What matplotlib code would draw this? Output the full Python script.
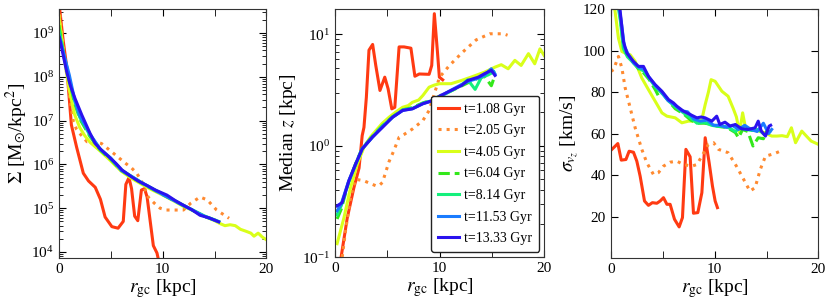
import matplotlib
matplotlib.use("Agg")
import matplotlib.pyplot as plt
from matplotlib.ticker import MultipleLocator, LogLocator, NullFormatter

plt.rcParams['font.family'] = ['Liberation Serif', 'DejaVu Serif']
plt.rcParams['mathtext.fontset'] = 'stix'

labels = ['t=1.08 Gyr', 't=2.05 Gyr', 't=4.05 Gyr', 't=6.04 Gyr',
          't=8.14 Gyr', 't=11.53 Gyr', 't=13.33 Gyr']
colors = ['#ff3a12', '#ff8a30', '#d9ff1a', '#33e81a', '#14f07c', '#1a7cff', '#2a12ee']
styles = ['-', ':', '-', '--', '-', '-', '-']

# ---- surface density Sigma(r) ----
sig_r = [
    [0, 0.4, 0.75, 1.2, 1.7, 2.35, 2.85, 3.5, 4.0, 4.45, 5.1, 5.7, 6.2, 6.45, 6.75, 7.0,
     7.3, 7.6, 7.95, 8.25, 8.5, 8.8, 9.1, 9.45, 9.8],
    [0, 0.5, 1.0, 1.4, 1.7, 2.0, 2.4, 2.7, 3.2, 3.7, 4.1, 4.7, 5.25, 5.8, 6.4, 7.0, 7.5,
     8.0, 8.6, 9.2, 9.75, 10.3, 11.0, 12.0, 12.7, 13.6, 14.3, 15.2, 16.4],
    [0, 0.5, 1.0, 1.5, 2.0, 2.5, 3.0, 4.0, 5.0, 6.0, 7.0, 8.0, 9.0, 10.0, 11.0, 12.0, 13.0,
     14.0, 15.0, 15.5, 16.0, 16.5, 17.0, 17.5, 18.0, 18.5, 18.8, 19.2, 19.6, 20.0],
    [0, 0.5, 1.0, 1.5, 2.0, 3.0, 4.0, 5.0, 6.0, 8.0, 10.0, 12.0, 14.0, 15.4],
    [0, 0.5, 1.0, 1.5, 2.0, 3.0, 4.0, 5.0, 6.0, 8.0, 10.0, 12.0, 14.0, 15.4],
    [0, 0.5, 1.0, 1.5, 2.0, 3.0, 4.0, 5.0, 6.0, 8.0, 10.0, 12.0, 14.0, 15.4],
    [0.05, 0.4, 0.75, 1.1, 1.55, 2.2, 3.0, 3.5, 4.0, 4.8, 5.5, 6.1, 7.0, 7.7, 8.5, 9.3,
     10.4, 11.2, 12.0, 12.8, 13.6, 14.5, 15.4],
]
sig_v = [
    [5e9, 7e8, 1.7e8, 8e6, 2.5e6, 6.3e5, 4.2e5, 3.0e5, 1.6e5, 6.3e4, 3.8e4, 3.5e4, 5e4,
     3.5e5, 5e5, 2.8e5, 6.6e4, 5.2e4, 2.6e5, 2.8e5, 1.8e5, 5e4, 1.4e4, 9.5e3, 4e3],
    [4e9, 3.2e8, 4e7, 9.3e6, 6.3e6, 5.1e6, 4e6, 3.3e6, 3.4e6, 3.2e6, 3.0e6, 2.3e6, 1.8e6,
     1.4e6, 1.07e6, 8.3e5, 6.3e5, 4e5, 1.8e5, 1.3e5, 1e5, 9.1e4, 9.1e4, 9.1e4, 1.3e5,
     1.8e5, 1.55e5, 9.1e4, 5.9e4],
    [2.5e9, 2.8e8, 5e7, 1.4e7, 7e6, 4.5e6, 3.2e6, 2e6, 1.2e6, 7e5, 4.8e5, 3.5e5, 2.6e5,
     2e5, 1.5e5, 1.1e5, 8.7e4, 6.6e4, 5.2e4, 4.5e4, 4e4, 4.2e4, 4e4, 3.3e4, 3e4, 2.7e4,
     2.3e4, 2.7e4, 2.2e4, 1.9e4],
    [1.5e9, 2.8e8, 8e7, 2.6e7, 1.1e7, 4.3e6, 2.1e6, 1.3e6, 7.3e5, 3.7e5, 2.05e5, 1.15e5,
     6.5e4, 5e4],
    [1.2e9, 3e8, 9e7, 2.9e7, 1.2e7, 4.6e6, 2.2e6, 1.35e6, 7.5e5, 3.8e5, 2.1e5, 1.17e5,
     6.7e4, 5e4],
    [9e8, 3.1e8, 1.1e8, 3.1e7, 1.3e7, 4.9e6, 2.2e6, 1.4e6, 7.4e5, 3.8e5, 2.05e5, 1.15e5,
     6.6e4, 4.9e4],
    [7.9e8, 3.2e8, 1.3e8, 6.3e7, 3.2e7, 1.35e7, 5.1e6, 3.0e6, 2.24e6, 1.5e6, 1.05e6,
     7.4e5, 5.2e5, 4.1e5, 3.3e5, 2.6e5, 2.0e5, 1.5e5, 1.17e5, 9.3e4, 6.9e4, 6.0e4, 4.9e4],
]

# ---- median height z(r) ----
z_r = [
    [0.5, 1.17, 1.8, 2.3, 2.6, 2.77, 3.0, 3.25, 3.6, 3.9, 4.3, 4.76, 5.08, 5.43, 5.72,
     6.13, 6.6, 7.26, 7.64, 8.06, 9.0, 9.25, 9.5, 9.8, 9.98, 10.3],
    [0.69, 1.0, 1.49, 1.97, 2.77, 3.4, 3.9, 4.2, 4.54, 5.17, 5.6, 6.13, 6.6, 7.4, 8.4,
     9.0, 9.5, 10.0, 10.95, 12.2, 13.5, 14.8, 16.1, 16.5],
    [0.2, 0.85, 1.49, 2.13, 2.77, 3.4, 3.9, 4.5, 5.17, 5.8, 6.46, 7.0, 7.4, 8.0, 8.4, 9.0,
     9.5, 10.0, 11.1, 12.1, 13.0, 14.3, 15.3, 15.9, 16.56, 17.2, 17.8, 18.5, 19.1, 19.6, 20.0],
    [0.2, 0.6, 1.3, 2.0, 2.6, 3.6, 4.5, 5.5, 6.5, 7.4, 8.4, 9.4, 10.2, 11.1, 12.0, 12.8,
     13.6, 14.3, 14.95, 15.3],
    [0.2, 0.6, 1.3, 2.0, 2.6, 3.6, 4.5, 5.5, 6.5, 7.4, 8.4, 9.4, 10.2, 11.1, 12.0, 12.7,
     13.4, 14.0, 14.6, 15.2],
    [0.2, 0.6, 1.3, 2.0, 2.6, 3.6, 4.5, 5.5, 6.5, 7.4, 8.4, 9.4, 10.2, 11.1, 12.0, 12.8,
     13.6, 14.3, 14.95, 15.3],
    [0.2, 0.69, 1.33, 1.97, 2.6, 3.57, 4.54, 5.5, 6.46, 7.4, 8.4, 9.35, 10.1, 11.1, 12.1,
     12.7, 13.7, 14.3, 14.95, 15.3],
]
z_v = [
    [0.089, 0.224, 0.417, 0.63, 1.23, 1.46, 2.72, 7.2, 8.1, 5.25, 3.13, 4.12, 3.24, 2.14,
     2.21, 7.7, 7.7, 7.5, 4.2, 4.4, 4.37, 5.25, 15.3, 6.9, 4.12, 3.9],
    [0.1, 0.17, 0.342, 0.5, 0.484, 0.457, 0.437, 0.437, 0.468, 0.72, 0.89, 1.19, 1.26,
     1.41, 1.68, 2.07, 2.92, 4.12, 5.25, 6.9, 8.9, 10.1, 10.1, 9.8],
    [0.132, 0.224, 0.42, 0.68, 0.97, 1.2, 1.36, 1.58, 1.8, 2.0, 2.21, 2.29, 2.45, 2.57,
     2.82, 3.35, 3.5, 3.6, 3.6, 3.85, 4.12, 4.57, 5.07, 5.33, 4.9, 5.83, 5.25, 6.7, 5.43,
     7.4, 6.45],
    [0.22, 0.27, 0.47, 0.7, 0.95, 1.22, 1.5, 1.82, 2.1, 2.2, 2.42, 2.6, 2.85, 3.1, 3.4,
     3.7, 4.0, 4.2, 3.45, 4.3],
    [0.24, 0.29, 0.47, 0.69, 0.94, 1.2, 1.48, 1.8, 2.1, 2.16, 2.4, 2.56, 2.8, 3.1, 3.45,
     3.9, 3.2, 4.1, 4.3, 4.6],
    [0.26, 0.3, 0.48, 0.69, 0.94, 1.2, 1.47, 1.8, 2.08, 2.15, 2.38, 2.55, 2.82, 3.15, 3.5,
     3.8, 4.0, 4.3, 4.9, 4.4],
    [0.288, 0.309, 0.484, 0.684, 0.933, 1.19, 1.46, 1.8, 2.07, 2.14, 2.38, 2.54, 2.82,
     3.13, 3.47, 3.85, 4.12, 4.43, 4.74, 4.27],
]

# ---- vertical velocity dispersion ----
s_r = [
    [0.1, 0.67, 1.0, 1.45, 1.76, 2.18, 2.5, 2.82, 3.24, 3.62, 4.0, 4.43, 4.75, 5.07, 5.4,
     5.71, 6.13, 6.58, 6.9, 7.23, 7.64, 7.96, 8.38, 8.77, 9.09, 9.47, 9.79, 10.05, 10.27],
    [0, 0.25, 0.73, 1.06, 1.38, 1.86, 2.34, 2.98, 3.46, 4.1, 4.59, 5.07, 5.71, 6.36, 7.0,
     7.81, 8.29, 8.77, 9.4, 9.9, 10.37, 11.3, 12.1, 12.8, 13.4, 13.9, 14.4, 14.9, 15.8, 16.3],
    [0.2, 0.41, 0.73, 1.06, 1.5, 1.86, 2.34, 2.98, 3.62, 4.27, 4.92, 5.4, 6.2, 6.84, 7.48,
     8.1, 8.77, 9.09, 9.4, 9.66, 10.05, 10.7, 11.3, 11.8, 12.1, 12.4, 12.7, 13.0, 13.5,
     14.0, 14.5, 15.0, 15.5, 16.0, 16.5, 17.0, 17.4, 17.8, 18.4, 18.9, 19.3, 19.7, 20.0],
    [0.6, 0.9, 1.2, 1.6, 2.2, 2.7, 3.2, 3.7, 4.3, 4.6, 5.0, 5.6, 6.2, 7.0, 7.7, 8.3, 9.0,
     9.7, 10.3, 11.0, 11.5, 12.0, 12.3, 12.7, 13.2, 13.7, 14.2, 14.7, 15.1],
    [0.6, 0.9, 1.2, 1.6, 2.2, 2.7, 3.2, 3.7, 4.3, 5.0, 5.6, 6.2, 7.0, 7.7, 8.3, 9.0, 9.7,
     10.3, 11.0, 11.5, 12.0, 12.5, 13.0, 13.6, 14.2, 14.8, 15.3],
    [0.7, 1.0, 1.3, 1.7, 2.2, 2.7, 3.2, 3.7, 4.3, 4.9, 5.5, 6.1, 6.8, 7.4, 8.0, 8.6, 9.3,
     9.9, 10.5, 11.1, 11.7, 12.3, 12.9, 13.5, 14.1, 14.7, 15.2, 15.5],
    [0.8, 0.9, 1.21, 1.54, 2.18, 2.66, 3.14, 3.62, 4.27, 4.92, 5.56, 6.03, 6.36, 7.0, 7.64,
     8.29, 8.7, 9.08, 9.73, 10.2, 10.5, 11.0, 11.5, 12.0, 12.6, 13.25, 13.9, 14.2, 14.5,
     14.9, 15.25, 15.4],
]
s_v = [
    [52.4, 55.2, 47.2, 47.5, 51.5, 51.0, 46.7, 39.5, 27.5, 25.4, 26.7, 26.4, 27.5, 29.1,
     25.9, 25.9, 18.7, 15.0, 19.5, 52.4, 48.8, 21.6, 21.9, 31.5, 58.0, 46.0, 34.7, 27.5, 24.3],
    [90, 90.8, 97.2, 91.6, 82, 72.4, 62.8, 52.4, 46, 40.3, 41.2, 44.3, 46.2, 46.7, 45.1,
     44.3, 45.1, 49.1, 54.8, 55.6, 52.4, 50.8, 44.3, 37.9, 32.3, 33.9, 42.7, 49.1, 50.4, 51.5],
    [125, 118.8, 106, 99.6, 98.5, 98, 94.8, 86.8, 81.2, 75.6, 70, 68.4, 67.6, 65.2, 66.0,
     66.0, 66.8, 74, 80, 86, 85.2, 80.4, 78, 72, 68, 60.5, 70, 62, 62.5, 61.5, 61, 60,
     58.8, 58.8, 59, 58.5, 62.8, 55.6, 61.2, 58.5, 56.4, 55.5, 54.8],
    [125, 116, 102, 97.5, 94, 91, 89, 86, 81, 78, 79.5, 75.5, 72, 69.5, 66.5, 65, 65,
     64.5, 63.5, 63, 62, 60.5, 58, 62, 61, 54, 58, 57.5, 62],
    [124, 115, 101, 97, 94, 91.5, 90, 86.5, 82.5, 79, 75.5, 73, 70, 67.5, 65, 65.5, 64,
     63.5, 63.5, 62.5, 61, 63, 62, 61.5, 62, 59.5, 61],
    [124, 114, 102, 98, 94, 92, 91, 87, 83, 80, 76, 74, 71, 70.5, 67, 66, 66.5, 64, 64,
     63, 64, 62, 64, 62, 61, 65, 60, 62],
    [125, 118.8, 104.4, 98.8, 94.8, 92.4, 92.4, 87.6, 83.6, 80.4, 76.4, 74.8, 73.2, 70.8,
     69.2, 67.6, 68, 67.6, 66, 68.4, 64.4, 65.5, 63.6, 64.4, 62.3, 62, 62.8, 66, 61.2,
     58.8, 63.6, 64],
]

fig = plt.figure(figsize=(8.3, 3.05), dpi=100)
ax1 = fig.add_axes([0.071, 0.154, 0.250, 0.816])
ax2 = fig.add_axes([0.4036, 0.157, 0.252, 0.813])
ax3 = fig.add_axes([0.736, 0.154, 0.250, 0.816])

for i in range(7):
    ax1.plot(sig_r[i], sig_v[i], color=colors[i], ls=styles[i], lw=2.2)
    ax2.plot(z_r[i], z_v[i], color=colors[i], ls=styles[i], lw=2.2, label=labels[i])
    ax3.plot(s_r[i], s_v[i], color=colors[i], ls=styles[i], lw=2.2)

ax1.set_yscale('log')
ax1.set_ylim(7.3e3, 3.5e9)
ax2.set_yscale('log')
ax2.set_ylim(0.1, 16.8)
ax3.set_ylim(0, 120)
ax3.set_yticks([20, 40, 60, 80, 100, 120])

for ax in (ax1, ax2, ax3):
    ax.set_xlim(0, 20)
    ax.xaxis.set_major_locator(MultipleLocator(10))
    ax.xaxis.set_minor_locator(MultipleLocator(5))
    ax.tick_params(which='both', direction='in', top=True, right=True, labelsize=11)
    ax.tick_params(which='major', length=5)
    ax.tick_params(which='minor', length=5, axis='x')
    ax.tick_params(which='minor', length=3, axis='y')
    ax.set_xlabel(r'$r_{\rm gc}$ [kpc]', fontsize=14, labelpad=1)
    for s in ax.spines.values():
        s.set_color('#333333')

for ax in (ax1, ax2):
    ax.yaxis.set_major_locator(LogLocator(base=10, numticks=12))
    ax.yaxis.set_minor_locator(LogLocator(base=10, subs=range(2, 10), numticks=12))
    ax.yaxis.set_minor_formatter(NullFormatter())

ax1.set_ylabel(r'$\Sigma$ [M$_{\odot}$/kpc$^2$]', fontsize=14, labelpad=2)
ax2.set_ylabel(r'Median $z$ [kpc]', fontsize=14, labelpad=2)
ax3.set_ylabel(r'$\sigma_{v_z}$ [km/s]', fontsize=14, labelpad=2)

leg = ax2.legend(loc='lower right', fontsize=10, handlelength=1.5, handletextpad=0.4,
                 labelspacing=0.62, borderaxespad=0.35, borderpad=0.5,
                 frameon=True, fancybox=True)
leg.get_frame().set_edgecolor('#222222')
leg.get_frame().set_linewidth(1.0)
leg.get_frame().set_alpha(1)

fig.savefig('out.png', dpi=100)
